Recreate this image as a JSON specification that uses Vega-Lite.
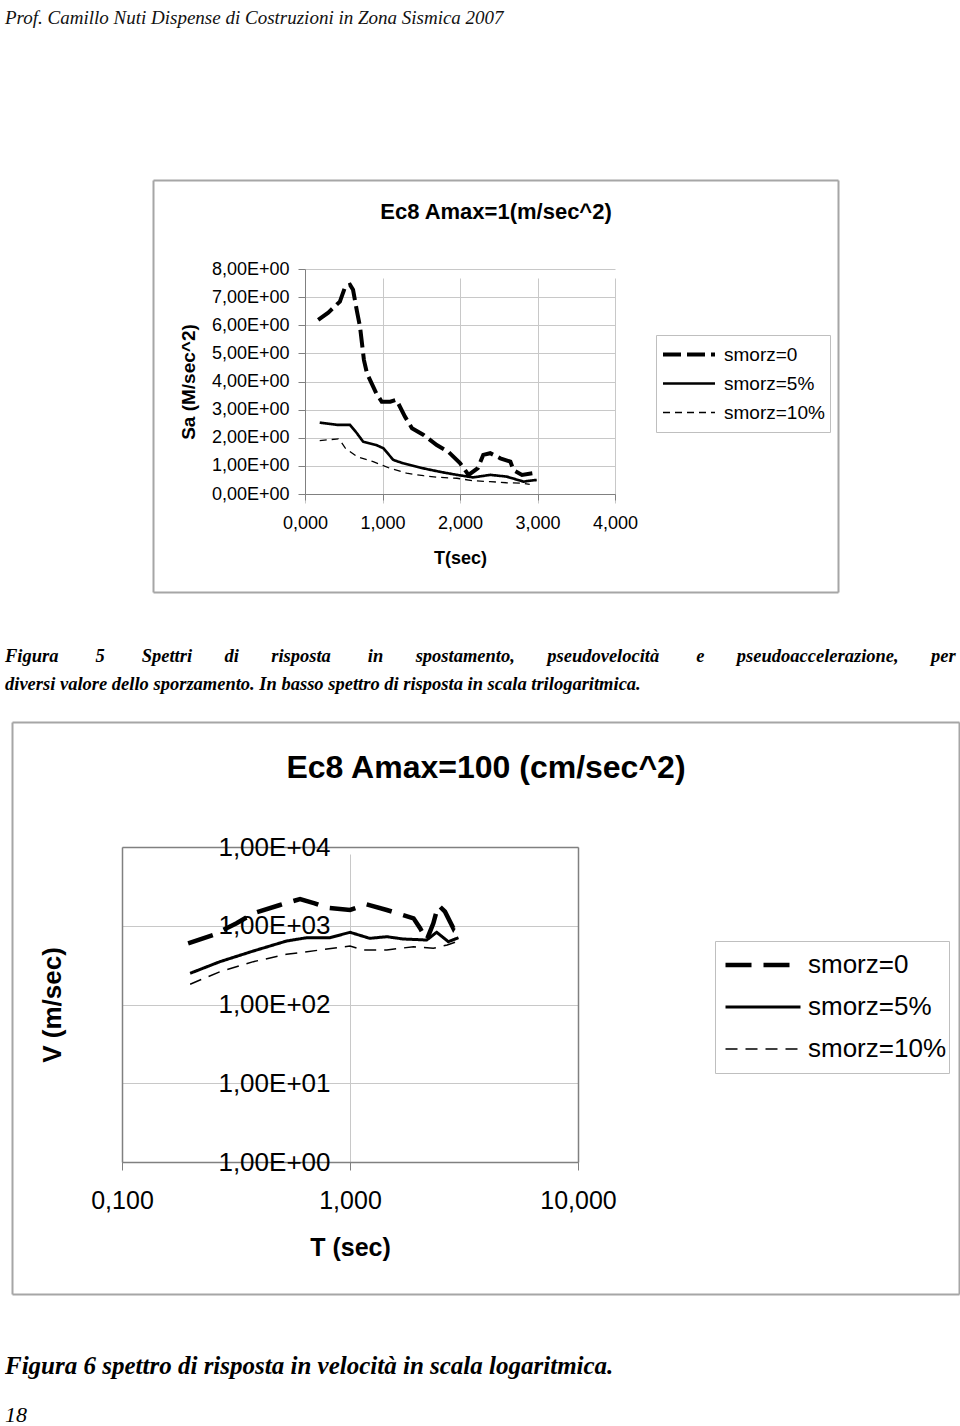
{
  "$schema": "https://vega.github.io/schema/vega-lite/v6.json",
  "padding": 0,
  "background": "white",
  "bounds": "flush",
  "spacing": 0,
  "resolve": {"scale": {"strokeDash": "independent", "strokeWidth": "independent"}, "legend": {"strokeDash": "independent", "strokeWidth": "independent"}},
  "config": {
    "view": {"stroke": null},
    "font": "Liberation Sans",
    "axis": {"labelFont": "Liberation Sans", "titleFont": "Liberation Sans", "labelColor": "#000", "titleColor": "#000", "domainColor": "#808080", "tickColor": "#808080", "gridColor": "#c8c8c8", "labelFlush": false, "labelOverlap": false, "titleFontWeight": "bold"},
    "title": {"color": "#000"}
  },
  "datasets": {
    "s1": [
      {"series": "smorz=0", "T": 0.17, "v": 6.19}, {"series": "smorz=0", "T": 0.30, "v": 6.45}, {"series": "smorz=0", "T": 0.45, "v": 6.84}, {"series": "smorz=0", "T": 0.52, "v": 7.38}, {"series": "smorz=0", "T": 0.58, "v": 7.44}, {"series": "smorz=0", "T": 0.62, "v": 7.26}, {"series": "smorz=0", "T": 0.67, "v": 6.5}, {"series": "smorz=0", "T": 0.71, "v": 5.95}, {"series": "smorz=0", "T": 0.76, "v": 4.77}, {"series": "smorz=0", "T": 0.80, "v": 4.29}, {"series": "smorz=0", "T": 0.92, "v": 3.58}, {"series": "smorz=0", "T": 0.99, "v": 3.28}, {"series": "smorz=0", "T": 1.10, "v": 3.28}, {"series": "smorz=0", "T": 1.18, "v": 3.35}, {"series": "smorz=0", "T": 1.29, "v": 2.75}, {"series": "smorz=0", "T": 1.38, "v": 2.34}, {"series": "smorz=0", "T": 1.53, "v": 2.10}, {"series": "smorz=0", "T": 1.70, "v": 1.74}, {"series": "smorz=0", "T": 1.85, "v": 1.50}, {"series": "smorz=0", "T": 2.00, "v": 1.10}, {"series": "smorz=0", "T": 2.11, "v": 0.68}, {"series": "smorz=0", "T": 2.23, "v": 0.92}, {"series": "smorz=0", "T": 2.30, "v": 1.39}, {"series": "smorz=0", "T": 2.39, "v": 1.45}, {"series": "smorz=0", "T": 2.52, "v": 1.27}, {"series": "smorz=0", "T": 2.65, "v": 1.15}, {"series": "smorz=0", "T": 2.69, "v": 0.85}, {"series": "smorz=0", "T": 2.80, "v": 0.68}, {"series": "smorz=0", "T": 2.94, "v": 0.74},
      {"series": "smorz=5%", "T": 0.19, "v": 2.54}, {"series": "smorz=5%", "T": 0.41, "v": 2.46}, {"series": "smorz=5%", "T": 0.58, "v": 2.46}, {"series": "smorz=5%", "T": 0.67, "v": 2.16}, {"series": "smorz=5%", "T": 0.75, "v": 1.86}, {"series": "smorz=5%", "T": 0.92, "v": 1.74}, {"series": "smorz=5%", "T": 1.01, "v": 1.63}, {"series": "smorz=5%", "T": 1.14, "v": 1.21}, {"series": "smorz=5%", "T": 1.27, "v": 1.09}, {"series": "smorz=5%", "T": 1.53, "v": 0.91}, {"series": "smorz=5%", "T": 1.74, "v": 0.79}, {"series": "smorz=5%", "T": 1.96, "v": 0.68}, {"series": "smorz=5%", "T": 2.17, "v": 0.59}, {"series": "smorz=5%", "T": 2.39, "v": 0.68}, {"series": "smorz=5%", "T": 2.60, "v": 0.62}, {"series": "smorz=5%", "T": 2.82, "v": 0.44}, {"series": "smorz=5%", "T": 2.90, "v": 0.47}, {"series": "smorz=5%", "T": 2.99, "v": 0.50},
      {"series": "smorz=10%", "T": 0.19, "v": 1.90}, {"series": "smorz=10%", "T": 0.43, "v": 1.96}, {"series": "smorz=10%", "T": 0.45, "v": 1.92}, {"series": "smorz=10%", "T": 0.52, "v": 1.63}, {"series": "smorz=10%", "T": 0.67, "v": 1.33}, {"series": "smorz=10%", "T": 0.88, "v": 1.15}, {"series": "smorz=10%", "T": 1.10, "v": 0.91}, {"series": "smorz=10%", "T": 1.31, "v": 0.74}, {"series": "smorz=10%", "T": 1.53, "v": 0.65}, {"series": "smorz=10%", "T": 1.74, "v": 0.59}, {"series": "smorz=10%", "T": 1.96, "v": 0.56}, {"series": "smorz=10%", "T": 2.17, "v": 0.47}, {"series": "smorz=10%", "T": 2.39, "v": 0.44}, {"series": "smorz=10%", "T": 2.60, "v": 0.40}, {"series": "smorz=10%", "T": 2.82, "v": 0.38}, {"series": "smorz=10%", "T": 2.90, "v": 0.34}
    ],
    "s2": [
      {"series": "smorz=0", "T": 0.195, "v": 598}, {"series": "smorz=0", "T": 0.251, "v": 763}, {"series": "smorz=0", "T": 0.318, "v": 1075}, {"series": "smorz=0", "T": 0.377, "v": 1439}, {"series": "smorz=0", "T": 0.493, "v": 1834}, {"series": "smorz=0", "T": 0.604, "v": 2185}, {"series": "smorz=0", "T": 0.70, "v": 1928}, {"series": "smorz=0", "T": 0.79, "v": 1700}, {"series": "smorz=0", "T": 1.0, "v": 1585}, {"series": "smorz=0", "T": 1.18, "v": 1870}, {"series": "smorz=0", "T": 1.45, "v": 1585}, {"series": "smorz=0", "T": 1.90, "v": 1243}, {"series": "smorz=0", "T": 2.03, "v": 929}, {"series": "smorz=0", "T": 2.17, "v": 659}, {"series": "smorz=0", "T": 2.32, "v": 1075}, {"series": "smorz=0", "T": 2.44, "v": 1834}, {"series": "smorz=0", "T": 2.61, "v": 1510}, {"series": "smorz=0", "T": 2.84, "v": 929}, {"series": "smorz=0", "T": 2.99, "v": 1183},
      {"series": "smorz=5%", "T": 0.199, "v": 249}, {"series": "smorz=5%", "T": 0.269, "v": 350}, {"series": "smorz=5%", "T": 0.377, "v": 478}, {"series": "smorz=5%", "T": 0.527, "v": 640}, {"series": "smorz=5%", "T": 0.646, "v": 705}, {"series": "smorz=5%", "T": 0.817, "v": 705}, {"series": "smorz=5%", "T": 1.0, "v": 826}, {"series": "smorz=5%", "T": 1.22, "v": 692}, {"series": "smorz=5%", "T": 1.45, "v": 726}, {"series": "smorz=5%", "T": 1.71, "v": 679}, {"series": "smorz=5%", "T": 2.17, "v": 659}, {"series": "smorz=5%", "T": 2.40, "v": 826}, {"series": "smorz=5%", "T": 2.70, "v": 627}, {"series": "smorz=5%", "T": 2.99, "v": 705},
      {"series": "smorz=10%", "T": 0.199, "v": 181}, {"series": "smorz=10%", "T": 0.269, "v": 261}, {"series": "smorz=10%", "T": 0.377, "v": 350}, {"series": "smorz=10%", "T": 0.527, "v": 434}, {"series": "smorz=10%", "T": 0.738, "v": 492}, {"series": "smorz=10%", "T": 1.0, "v": 553}, {"series": "smorz=10%", "T": 1.14, "v": 492}, {"series": "smorz=10%", "T": 1.45, "v": 492}, {"series": "smorz=10%", "T": 1.90, "v": 542}, {"series": "smorz=10%", "T": 2.32, "v": 517}, {"series": "smorz=10%", "T": 2.67, "v": 570}, {"series": "smorz=10%", "T": 2.93, "v": 627}, {"series": "smorz=10%", "T": 2.99, "v": 542}
    ]
  },
  "vconcat": [
    {
      "width": 960, "height": 180,
      "data": {"values": []},
      "mark": "point",
      "title": {"text": "Prof. Camillo Nuti Dispense di Costruzioni in Zona Sismica 2007", "font": "Liberation Serif", "fontStyle": "italic", "fontWeight": "normal", "fontSize": 19, "anchor": "start", "frame": "group", "orient": "top", "offset": -43, "baseline": "alphabetic", "dx": 5, "color": "#111"}
    },
    {
      "width": 960, "height": 412,
      "title": {"text": "Ec8 Amax=1(m/sec^2)", "font": "Liberation Sans", "fontSize": 22, "fontWeight": "bold", "anchor": "middle", "frame": "group", "orient": "top", "offset": -61, "baseline": "alphabetic", "dx": 16},
      "resolve": {"scale": {"x": "independent", "y": "independent"}, "axis": {"x": "independent", "y": "independent"}},
      "layer": [
        {
          "data": {"name": "s1"},
          "mark": {"type": "line", "color": "black", "clip": false},
          "encoding": {
            "x": {"field": "T", "type": "quantitative", "scale": {"domain": [0, 4], "range": [305, 615], "nice": false, "zero": false},
              "axis": {"orient": "bottom", "offset": -98, "values": [0, 1, 2, 3, 4], "labelExpr": "replace(format(datum.value,'.3f'),'.',',')", "labelFontSize": 18, "tickSize": 6, "labelPadding": 14, "title": "T(sec)", "titleFontSize": 18, "titlePadding": 17, "grid": true}},
            "y": {"field": "v", "type": "quantitative", "scale": {"domain": [0, 8], "range": [314, 89], "nice": false},
              "axis": {"orient": "left", "offset": -305, "values": [0, 1, 2, 3, 4, 5, 6, 7, 8], "labelExpr": "replace(replace(upper(format(datum.value,'.2e')),'.',','),'E+','E+0')", "labelFontSize": 18, "tickSize": 7, "labelPadding": 9, "title": "Sa (M/sec^2)", "titleFontSize": 19, "titlePadding": 13, "grid": true}},
            "strokeDash": {"field": "series", "type": "ordinal", "scale": {"domain": ["smorz=0", "smorz=5%", "smorz=10%"], "range": [[18, 6], [1, 0], [7, 5]]},
              "legend": {"title": null, "orient": "none", "legendX": 656, "legendY": 155, "symbolType": "stroke", "symbolSize": 2704, "symbolStrokeColor": "black", "labelFont": "Liberation Sans", "labelFontSize": 19, "labelOffset": 7, "clipHeight": 29, "rowPadding": 0, "padding": 5, "strokeColor": "#bfbfbf", "fillColor": "white"}},
            "strokeWidth": {"field": "series", "type": "ordinal", "scale": {"domain": ["smorz=0", "smorz=5%", "smorz=10%"], "range": [4, 1.3, 1.3]},
              "legend": {"title": null, "orient": "none", "legendX": 656, "legendY": 155, "symbolType": "stroke", "symbolSize": 2704, "symbolStrokeColor": "black", "labelFont": "Liberation Sans", "labelFontSize": 19, "labelOffset": 7, "clipHeight": 29, "rowPadding": 0, "padding": 5, "strokeColor": "#bfbfbf", "fillColor": "white"}}
          }
        },
        {
          "data": {"values": []},
          "mark": {"type": "point", "opacity": 0},
          "encoding": {
            "x": {"field": "a", "type": "quantitative", "scale": {"domain": [0, 1], "range": [153, 838], "nice": false, "zero": false}, "axis": {"orient": "top", "offset": 0, "labels": false, "ticks": false, "grid": false, "title": null, "domainColor": "#a6a6a6", "domainWidth": 2}},
            "y": {"field": "b", "type": "quantitative", "scale": {"domain": [0, 1], "range": [412, 0], "nice": false, "zero": false}, "axis": {"orient": "left", "offset": -153, "labels": false, "ticks": false, "grid": false, "title": null, "domainColor": "#a6a6a6", "domainWidth": 2}}
          }
        },
        {
          "data": {"values": []},
          "mark": {"type": "point", "opacity": 0},
          "encoding": {
            "x": {"field": "a", "type": "quantitative", "scale": {"domain": [0, 1], "range": [153, 838], "nice": false, "zero": false}, "axis": {"orient": "bottom", "offset": 0, "labels": false, "ticks": false, "grid": false, "title": null, "domainColor": "#a6a6a6", "domainWidth": 2}},
            "y": {"field": "b", "type": "quantitative", "scale": {"domain": [0, 1], "range": [412, 0], "nice": false, "zero": false}, "axis": {"orient": "right", "offset": -122, "labels": false, "ticks": false, "grid": false, "title": null, "domainColor": "#a6a6a6", "domainWidth": 2}}
          }
        }
      ]
    },
    {
      "width": 960, "height": 130,
      "data": {"values": []},
      "mark": "point",
      "title": {"text": ["Figura \u00a0\u00a0\u00a0\u00a0\u00a0\u00a0\u00a05 \u00a0\u00a0\u00a0\u00a0\u00a0\u00a0\u00a0Spettri \u00a0\u00a0\u00a0\u00a0\u00a0\u00a0di \u00a0\u00a0\u00a0\u00a0\u00a0\u00a0risposta \u00a0\u00a0\u00a0\u00a0\u00a0\u00a0\u00a0in \u00a0\u00a0\u00a0\u00a0\u00a0\u00a0spostamento, \u00a0\u00a0\u00a0\u00a0\u00a0\u00a0pseudovelocità \u00a0\u00a0\u00a0\u00a0\u00a0\u00a0\u00a0e \u00a0\u00a0\u00a0\u00a0\u00a0\u00a0pseudoaccelerazione, \u00a0\u00a0\u00a0\u00a0\u00a0\u00a0per", "diversi valore dello sporzamento. In basso spettro di risposta in scala trilogaritmica."], "font": "Liberation Serif", "fontStyle": "italic", "fontWeight": "bold", "fontSize": 18.5, "lineHeight": 28, "anchor": "start", "frame": "group", "orient": "top", "offset": -116, "baseline": "alphabetic", "dx": 5}
    },
    {
      "width": 960, "height": 572,
      "title": {"text": "Ec8 Amax=100 (cm/sec^2)", "font": "Liberation Sans", "fontSize": 32, "fontWeight": "bold", "anchor": "middle", "frame": "group", "orient": "top", "offset": -88, "baseline": "alphabetic", "dx": 6},
      "resolve": {"scale": {"x": "independent", "y": "independent"}, "axis": {"x": "independent", "y": "independent"}},
      "layer": [
        {
          "data": {"name": "s2"},
          "resolve": {"axis": {"x": "independent", "y": "independent"}},
          "layer": [
            {
              "mark": {"type": "line", "color": "black", "clip": false},
              "encoding": {
                "x": {"field": "T", "type": "quantitative", "scale": {"type": "log", "domain": [0.1, 10], "range": [122, 578], "nice": false},
                  "axis": {"orient": "bottom", "offset": -132, "values": [0.1, 1, 10], "labelExpr": "replace(format(datum.value,'.3f'),'.',',')", "labelFontSize": 25, "tickSize": 8, "labelPadding": 18, "title": "T (sec)", "titleFontSize": 25, "titlePadding": 22, "grid": true, "domainWidth": 1.5}},
                "y": {"field": "v", "type": "quantitative", "scale": {"type": "log", "domain": [1, 10000], "range": [440, 125], "nice": false},
                  "axis": {"orient": "left", "offset": -122, "values": [1, 10, 100, 1000, 10000], "labelExpr": "replace(replace(upper(format(datum.value,'.2e')),'.',','),'E+','E+0')", "labelFontSize": 26, "ticks": false, "tickSize": 0, "labelPadding": -208, "title": "V (m/sec)", "titleFontSize": 26, "titlePadding": 57, "grid": true, "domainWidth": 1.5}},
                "strokeDash": {"field": "series", "type": "ordinal", "scale": {"domain": ["smorz=0", "smorz=5%", "smorz=10%"], "range": [[26, 12], [1, 0], [12, 8]]},
                  "legend": {"title": null, "orient": "none", "legendX": 715, "legendY": 219, "symbolType": "stroke", "symbolSize": 5625, "symbolStrokeColor": "black", "symbolOffset": 5, "labelFont": "Liberation Sans", "labelFontSize": 26, "labelOffset": 5, "clipHeight": 42, "rowPadding": 0, "padding": 3, "strokeColor": "#bfbfbf", "fillColor": "white"}},
                "strokeWidth": {"field": "series", "type": "ordinal", "scale": {"domain": ["smorz=0", "smorz=5%", "smorz=10%"], "range": [4.5, 1.5, 1.5]},
                  "legend": {"title": null, "orient": "none", "legendX": 715, "legendY": 219, "symbolType": "stroke", "symbolSize": 5625, "symbolStrokeColor": "black", "symbolOffset": 5, "labelFont": "Liberation Sans", "labelFontSize": 26, "labelOffset": 5, "clipHeight": 42, "rowPadding": 0, "padding": 3, "strokeColor": "#bfbfbf", "fillColor": "white"}}
              }
            },
            {
              "mark": {"type": "point", "opacity": 0},
              "encoding": {
                "x": {"field": "T", "type": "quantitative", "axis": {"orient": "top", "offset": -125, "labels": false, "ticks": false, "grid": false, "title": null, "domainColor": "#808080", "domainWidth": 1.5}},
                "y": {"field": "v", "type": "quantitative", "axis": {"orient": "right", "offset": -382, "labels": false, "ticks": false, "grid": false, "title": null, "domainColor": "#808080", "domainWidth": 1.5}}
              }
            }
          ]
        },
        {
          "data": {"values": []},
          "mark": {"type": "point", "opacity": 0},
          "encoding": {
            "x": {"field": "a", "type": "quantitative", "scale": {"domain": [0, 1], "range": [12, 959], "nice": false, "zero": false}, "axis": {"orient": "top", "offset": 0, "labels": false, "ticks": false, "grid": false, "title": null, "domainColor": "#a6a6a6", "domainWidth": 2}},
            "y": {"field": "b", "type": "quantitative", "scale": {"domain": [0, 1], "range": [572, 0], "nice": false, "zero": false}, "axis": {"orient": "left", "offset": -12, "labels": false, "ticks": false, "grid": false, "title": null, "domainColor": "#a6a6a6", "domainWidth": 2}}
          }
        },
        {
          "data": {"values": []},
          "mark": {"type": "point", "opacity": 0},
          "encoding": {
            "x": {"field": "a", "type": "quantitative", "scale": {"domain": [0, 1], "range": [12, 959], "nice": false, "zero": false}, "axis": {"orient": "bottom", "offset": 0, "labels": false, "ticks": false, "grid": false, "title": null, "domainColor": "#a6a6a6", "domainWidth": 2}},
            "y": {"field": "b", "type": "quantitative", "scale": {"domain": [0, 1], "range": [572, 0], "nice": false, "zero": false}, "axis": {"orient": "right", "offset": -1, "labels": false, "ticks": false, "grid": false, "title": null, "domainColor": "#a6a6a6", "domainWidth": 2}}
          }
        }
      ]
    },
    {
      "width": 960, "height": 100,
      "data": {"values": []},
      "mark": "point",
      "title": {"text": "Figura 6 spettro di risposta in velocità in scala logaritmica.", "font": "Liberation Serif", "fontStyle": "italic", "fontWeight": "bold", "fontSize": 25, "anchor": "start", "frame": "group", "orient": "top", "offset": -105, "baseline": "alphabetic", "dx": 5}
    },
    {
      "width": 960, "height": 32,
      "data": {"values": []},
      "mark": "point",
      "title": {"text": "18", "font": "Liberation Serif", "fontStyle": "italic", "fontWeight": "normal", "fontSize": 22, "anchor": "start", "frame": "group", "orient": "top", "offset": -50, "baseline": "alphabetic", "dx": 5}
    }
  ]
}
